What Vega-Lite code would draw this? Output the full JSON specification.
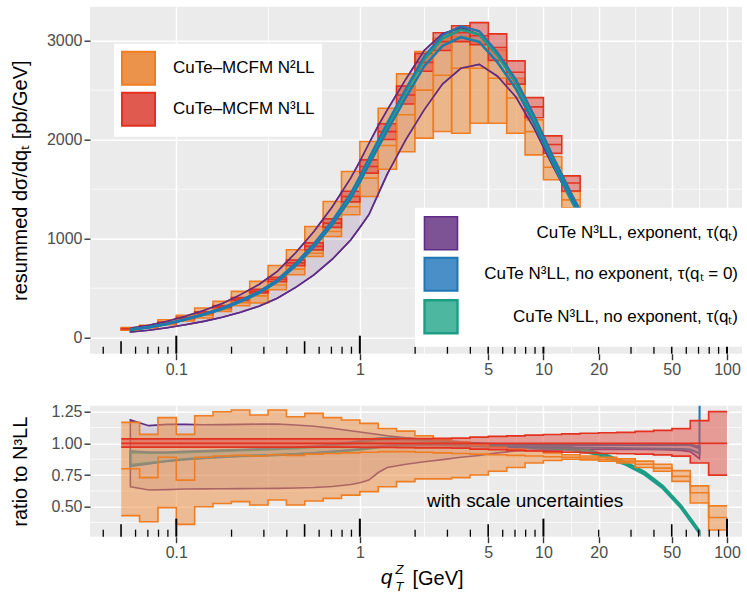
{
  "$schema": "https://vega.github.io/schema/vega-lite/v6.json",
  "padding": {"left": 10, "top": 6.7, "right": 0, "bottom": 0},
  "spacing": 26,
  "config": {
    "font": "Liberation Sans",
    "view": {"fill": "#EBEBEB", "stroke": null},
    "axis": {"domain": false, "labelFont": "Liberation Sans", "labelFontSize": 16, "labelColor": "#4D4D4D", "titleFont": "Liberation Sans", "titleFontSize": 20, "titleFontWeight": "normal", "titleColor": "black", "tickColor": "#333333", "tickSize": 6, "tickWidth": 1.4, "gridColor": "white", "labelPadding": 2, "labelFlush": false, "labelOverlap": false},
    "legend": {"labelFont": "Liberation Sans"}
  },
  "resolve": {"scale": {"x": "independent", "y": "independent", "fill": "independent", "stroke": "independent", "strokeWidth": "independent"}, "legend": {"fill": "independent", "stroke": "independent"}},
  "datasets": {
    "hist": [
      {"a":0.050119,"b":0.063096,"s":"N2","lo":72,"c":78,"hi":100},{"a":0.050119,"b":0.063096,"s":"N3","lo":80,"c":84,"hi":88},
      {"a":0.063096,"b":0.079433,"s":"N2","lo":95,"c":102,"hi":122},{"a":0.063096,"b":0.079433,"s":"N3","lo":106,"c":111,"hi":116},
      {"a":0.079433,"b":0.1,"s":"N2","lo":128,"c":140,"hi":178},{"a":0.079433,"b":0.1,"s":"N3","lo":142,"c":148,"hi":154},
      {"a":0.1,"b":0.125893,"s":"N2","lo":165,"c":175,"hi":222},{"a":0.1,"b":0.125893,"s":"N3","lo":186,"c":194,"hi":202},
      {"a":0.125893,"b":0.158489,"s":"N2","lo":196,"c":225,"hi":297},{"a":0.125893,"b":0.158489,"s":"N3","lo":238,"c":248,"hi":258},
      {"a":0.158489,"b":0.199526,"s":"N2","lo":263,"c":285,"hi":364},{"a":0.158489,"b":0.199526,"s":"N3","lo":298,"c":310,"hi":322},
      {"a":0.199526,"b":0.251189,"s":"N2","lo":320,"c":350,"hi":465},{"a":0.199526,"b":0.251189,"s":"N3","lo":372,"c":387,"hi":402},
      {"a":0.251189,"b":0.316228,"s":"N2","lo":347,"c":420,"hi":566},{"a":0.251189,"b":0.316228,"s":"N3","lo":450,"c":468,"hi":486},
      {"a":0.316228,"b":0.398107,"s":"N2","lo":482,"c":530,"hi":727},{"a":0.316228,"b":0.398107,"s":"N3","lo":563,"c":585,"hi":607},
      {"a":0.398107,"b":0.501187,"s":"N2","lo":633,"c":690,"hi":886},{"a":0.398107,"b":0.501187,"s":"N3","lo":725,"c":753,"hi":781},
      {"a":0.501187,"b":0.630957,"s":"N2","lo":818,"c":850,"hi":1121},{"a":0.501187,"b":0.630957,"s":"N3","lo":885,"c":920,"hi":955},
      {"a":0.630957,"b":0.794328,"s":"N2","lo":1020,"c":1070,"hi":1374},{"a":0.630957,"b":0.794328,"s":"N3","lo":1112,"c":1155,"hi":1198},
      {"a":0.794328,"b":1,"s":"N2","lo":1239,"c":1320,"hi":1677},{"a":0.794328,"b":1,"s":"N3","lo":1370,"c":1424,"hi":1478},
      {"a":1,"b":1.258925,"s":"N2","lo":1424,"c":1610,"hi":1980},{"a":1,"b":1.258925,"s":"N3","lo":1660,"c":1727,"hi":1794},
      {"a":1.258925,"b":1.584893,"s":"N2","lo":1700,"c":1940,"hi":2317},{"a":1.258925,"b":1.584893,"s":"N3","lo":2000,"c":2080,"hi":2160},
      {"a":1.584893,"b":1.995262,"s":"N2","lo":1876,"c":2250,"hi":2664},{"a":1.584893,"b":1.995262,"s":"N3","lo":2360,"c":2450,"hi":2540},
      {"a":1.995262,"b":2.511886,"s":"N2","lo":2014,"c":2500,"hi":2889},{"a":1.995262,"b":2.511886,"s":"N3","lo":2690,"c":2780,"hi":2870},
      {"a":2.511886,"b":3.162278,"s":"N2","lo":2081,"c":2650,"hi":3024},{"a":2.511886,"b":3.162278,"s":"N3","lo":2900,"c":2990,"hi":3080},
      {"a":3.162278,"b":3.981072,"s":"N2","lo":2064,"c":2720,"hi":3040},{"a":3.162278,"b":3.981072,"s":"N3","lo":2990,"c":3080,"hi":3150},
      {"a":3.981072,"b":5.011872,"s":"N2","lo":2165,"c":2720,"hi":2990},{"a":3.981072,"b":5.011872,"s":"N3","lo":2960,"c":3050,"hi":3182},
      {"a":5.011872,"b":6.309573,"s":"N2","lo":2165,"c":2620,"hi":2906},{"a":5.011872,"b":6.309573,"s":"N3","lo":2800,"c":2930,"hi":3068},
      {"a":6.309573,"b":7.943282,"s":"N2","lo":2064,"c":2420,"hi":2620},{"a":6.309573,"b":7.943282,"s":"N3","lo":2560,"c":2680,"hi":2795},
      {"a":7.943282,"b":10,"s":"N2","lo":1845,"c":2080,"hi":2199},{"a":7.943282,"b":10,"s":"N3","lo":2220,"c":2330,"hi":2424},
      {"a":10,"b":12.58925,"s":"N2","lo":1593,"c":1720,"hi":1828},{"a":10,"b":12.58925,"s":"N3","lo":1860,"c":1950,"hi":2037},
      {"a":12.58925,"b":15.84893,"s":"N2","lo":1310,"c":1390,"hi":1475},{"a":12.58925,"b":15.84893,"s":"N3","lo":1480,"c":1560,"hi":1633},
      {"a":15.84893,"b":19.95262,"s":"N2","lo":1010,"c":1060,"hi":1120},{"a":15.84893,"b":19.95262,"s":"N3","lo":1130,"c":1200,"hi":1265},
      {"a":19.95262,"b":25.11886,"s":"N2","lo":740,"c":775,"hi":815},{"a":19.95262,"b":25.11886,"s":"N3","lo":830,"c":880,"hi":930},
      {"a":25.11886,"b":31.62278,"s":"N2","lo":510,"c":530,"hi":560},{"a":25.11886,"b":31.62278,"s":"N3","lo":575,"c":610,"hi":650},
      {"a":31.62278,"b":39.81072,"s":"N2","lo":315,"c":330,"hi":350},{"a":31.62278,"b":39.81072,"s":"N3","lo":365,"c":390,"hi":420},
      {"a":39.81072,"b":50.11872,"s":"N2","lo":170,"c":178,"hi":185},{"a":39.81072,"b":50.11872,"s":"N3","lo":205,"c":220,"hi":240},
      {"a":50.11872,"b":63.09573,"s":"N2","lo":75,"c":79,"hi":83},{"a":50.11872,"b":63.09573,"s":"N3","lo":95,"c":105,"hi":115},
      {"a":63.09573,"b":79.43282,"s":"N2","lo":22,"c":25,"hi":28},{"a":63.09573,"b":79.43282,"s":"N3","lo":36,"c":40,"hi":45},
      {"a":79.43282,"b":100,"s":"N2","lo":3,"c":3.5,"hi":4},{"a":79.43282,"b":100,"s":"N3","lo":6,"c":8,"hi":10}
    ],
    "ratio": [
      {"x":0.050119,"olo":0.43,"oc":0.80,"ohi":1.166,"rlo":0.97,"rc":1,"rhi":1.035},
      {"x":0.063096,"olo":0.382,"oc":0.73,"ohi":1.071,"rlo":0.97,"rc":1,"rhi":1.035},
      {"x":0.079433,"olo":0.493,"oc":0.89,"ohi":1.203,"rlo":0.97,"rc":1,"rhi":1.035},
      {"x":0.1,"olo":0.361,"oc":0.71,"ohi":1.071,"rlo":0.97,"rc":1,"rhi":1.035},
      {"x":0.125893,"olo":0.50,"oc":0.89,"ohi":1.218,"rlo":0.97,"rc":1,"rhi":1.035},
      {"x":0.158489,"olo":0.526,"oc":0.90,"ohi":1.25,"rlo":0.97,"rc":1,"rhi":1.035},
      {"x":0.199526,"olo":0.54,"oc":0.905,"ohi":1.263,"rlo":0.97,"rc":1,"rhi":1.035},
      {"x":0.251189,"olo":0.514,"oc":0.90,"ohi":1.224,"rlo":0.97,"rc":1,"rhi":1.035},
      {"x":0.316228,"olo":0.553,"oc":0.91,"ohi":1.263,"rlo":0.97,"rc":1,"rhi":1.035},
      {"x":0.398107,"olo":0.514,"oc":0.905,"ohi":1.21,"rlo":0.97,"rc":1,"rhi":1.035},
      {"x":0.501187,"olo":0.545,"oc":0.915,"ohi":1.237,"rlo":0.97,"rc":1,"rhi":1.035},
      {"x":0.630957,"olo":0.566,"oc":0.92,"ohi":1.203,"rlo":0.97,"rc":1,"rhi":1.035},
      {"x":0.794328,"olo":0.592,"oc":0.925,"ohi":1.184,"rlo":0.97,"rc":1,"rhi":1.035},
      {"x":1,"olo":0.619,"oc":0.93,"ohi":1.158,"rlo":0.968,"rc":1,"rhi":1.036},
      {"x":1.258925,"olo":0.658,"oc":0.935,"ohi":1.118,"rlo":0.968,"rc":1,"rhi":1.036},
      {"x":1.584893,"olo":0.698,"oc":0.935,"ohi":1.097,"rlo":0.966,"rc":1,"rhi":1.037},
      {"x":1.995262,"olo":0.72,"oc":0.93,"ohi":1.06,"rlo":0.965,"rc":1,"rhi":1.038},
      {"x":2.511886,"olo":0.72,"oc":0.925,"ohi":1.03,"rlo":0.964,"rc":1,"rhi":1.04},
      {"x":3.162278,"olo":0.73,"oc":0.92,"ohi":1.01,"rlo":0.962,"rc":1,"rhi":1.042},
      {"x":3.981072,"olo":0.75,"oc":0.915,"ohi":0.99,"rlo":0.955,"rc":1,"rhi":1.05},
      {"x":5.011872,"olo":0.78,"oc":0.91,"ohi":0.97,"rlo":0.95,"rc":1,"rhi":1.055},
      {"x":6.309573,"olo":0.81,"oc":0.905,"ohi":0.955,"rlo":0.945,"rc":1,"rhi":1.06},
      {"x":7.943282,"olo":0.845,"oc":0.90,"ohi":0.94,"rlo":0.94,"rc":1,"rhi":1.065},
      {"x":10,"olo":0.865,"oc":0.895,"ohi":0.925,"rlo":0.935,"rc":1,"rhi":1.07},
      {"x":12.58925,"olo":0.875,"oc":0.89,"ohi":0.91,"rlo":0.93,"rc":1,"rhi":1.075},
      {"x":15.84893,"olo":0.87,"oc":0.885,"ohi":0.90,"rlo":0.925,"rc":1,"rhi":1.08},
      {"x":19.95262,"olo":0.86,"oc":0.875,"ohi":0.89,"rlo":0.92,"rc":1,"rhi":1.084},
      {"x":25.11886,"olo":0.845,"oc":0.86,"ohi":0.878,"rlo":0.918,"rc":1,"rhi":1.087},
      {"x":31.62278,"olo":0.81,"oc":0.835,"ohi":0.86,"rlo":0.915,"rc":1,"rhi":1.094},
      {"x":39.81072,"olo":0.78,"oc":0.805,"ohi":0.835,"rlo":0.91,"rc":1,"rhi":1.103},
      {"x":50.11872,"olo":0.70,"oc":0.74,"ohi":0.785,"rlo":0.90,"rc":1,"rhi":1.117},
      {"x":63.09573,"olo":0.53,"oc":0.61,"ohi":0.665,"rlo":0.845,"rc":1,"rhi":1.18},
      {"x":79.43282,"olo":0.316,"oc":0.415,"ohi":0.507,"rlo":0.75,"rc":1,"rhi":1.25},
      {"x":100,"olo":0.316,"oc":0.415,"ohi":0.507,"rlo":0.75,"rc":1,"rhi":1.25}
    ],
    "curves": [
      {"x":0.0562,"s":"P","lo":55,"hi":92,"qlo":0.658,"qhi":1.185},{"x":0.0562,"s":"T","lo":77,"hi":79,"qlo":0.83,"qhi":0.93},{"x":0.0562,"s":"B","lo":77,"hi":80,"qlo":0.82,"qhi":0.94},
      {"x":0.0708,"s":"P","lo":72,"hi":122,"qlo":0.632,"qhi":1.14},{"x":0.0708,"s":"T","lo":101,"hi":103,"qlo":0.845,"qhi":0.925},{"x":0.0708,"s":"B","lo":100,"hi":104,"qlo":0.84,"qhi":0.93},
      {"x":0.0891,"s":"P","lo":98,"hi":163,"qlo":0.635,"qhi":1.15},{"x":0.0891,"s":"T","lo":135,"hi":139,"qlo":0.86,"qhi":0.925},{"x":0.0891,"s":"B","lo":135,"hi":141,"qlo":0.86,"qhi":0.93},
      {"x":0.112,"s":"P","lo":128,"hi":213,"qlo":0.64,"qhi":1.15},{"x":0.112,"s":"T","lo":179,"hi":183,"qlo":0.875,"qhi":0.93},{"x":0.112,"s":"B","lo":179,"hi":185,"qlo":0.875,"qhi":0.935},
      {"x":0.141,"s":"P","lo":162,"hi":272,"qlo":0.641,"qhi":1.147},{"x":0.141,"s":"T","lo":228,"hi":234,"qlo":0.885,"qhi":0.935},{"x":0.141,"s":"B","lo":228,"hi":236,"qlo":0.885,"qhi":0.94},
      {"x":0.178,"s":"P","lo":203,"hi":342,"qlo":0.642,"qhi":1.148},{"x":0.178,"s":"T","lo":286,"hi":294,"qlo":0.893,"qhi":0.94},{"x":0.178,"s":"B","lo":287,"hi":297,"qlo":0.895,"qhi":0.945},
      {"x":0.224,"s":"P","lo":255,"hi":432,"qlo":0.643,"qhi":1.15},{"x":0.224,"s":"T","lo":361,"hi":371,"qlo":0.9,"qhi":0.945},{"x":0.224,"s":"B","lo":361,"hi":375,"qlo":0.9,"qhi":0.95},
      {"x":0.282,"s":"P","lo":315,"hi":535,"qlo":0.644,"qhi":1.152},{"x":0.282,"s":"T","lo":446,"hi":458,"qlo":0.903,"qhi":0.95},{"x":0.282,"s":"B","lo":447,"hi":463,"qlo":0.905,"qhi":0.955},
      {"x":0.355,"s":"P","lo":395,"hi":668,"qlo":0.645,"qhi":1.153},{"x":0.355,"s":"T","lo":561,"hi":575,"qlo":0.908,"qhi":0.955},{"x":0.355,"s":"B","lo":562,"hi":582,"qlo":0.91,"qhi":0.96},
      {"x":0.447,"s":"P","lo":505,"hi":856,"qlo":0.648,"qhi":1.145},{"x":0.447,"s":"T","lo":724,"hi":742,"qlo":0.915,"qhi":0.962},{"x":0.447,"s":"B","lo":725,"hi":751,"qlo":0.917,"qhi":0.968},
      {"x":0.562,"s":"P","lo":632,"hi":1070,"qlo":0.652,"qhi":1.135},{"x":0.562,"s":"T","lo":913,"hi":935,"qlo":0.922,"qhi":0.972},{"x":0.562,"s":"B","lo":913,"hi":947,"qlo":0.925,"qhi":0.978},
      {"x":0.708,"s":"P","lo":790,"hi":1320,"qlo":0.66,"qhi":1.12},{"x":0.708,"s":"T","lo":1138,"hi":1166,"qlo":0.932,"qhi":0.985},{"x":0.708,"s":"B","lo":1139,"hi":1181,"qlo":0.935,"qhi":0.992},
      {"x":0.891,"s":"P","lo":985,"hi":1610,"qlo":0.675,"qhi":1.1},{"x":0.891,"s":"T","lo":1403,"hi":1437,"qlo":0.944,"qhi":1.0},{"x":0.891,"s":"B","lo":1404,"hi":1456,"qlo":0.947,"qhi":1.01},
      {"x":1.0,"s":"P","lo":1110,"hi":1780,"qlo":0.69,"qhi":1.09},{"x":1.0,"s":"T","lo":1569,"hi":1607,"qlo":0.95,"qhi":1.01},{"x":1.0,"s":"B","lo":1571,"hi":1629,"qlo":0.955,"qhi":1.02},
      {"x":1.12,"s":"P","lo":1240,"hi":1960,"qlo":0.71,"qhi":1.08},{"x":1.12,"s":"T","lo":1746,"hi":1788,"qlo":0.96,"qhi":1.02},{"x":1.12,"s":"B","lo":1748,"hi":1812,"qlo":0.965,"qhi":1.03},
      {"x":1.26,"s":"P","lo":1450,"hi":2140,"qlo":0.77,"qhi":1.07},{"x":1.26,"s":"T","lo":1923,"hi":1969,"qlo":0.97,"qhi":1.03},{"x":1.26,"s":"B","lo":1925,"hi":1995,"qlo":0.975,"qhi":1.04},
      {"x":1.41,"s":"P","lo":1650,"hi":2300,"qlo":0.81,"qhi":1.06},{"x":1.41,"s":"T","lo":2090,"hi":2140,"qlo":0.98,"qhi":1.035},{"x":1.41,"s":"B","lo":2092,"hi":2168,"qlo":0.985,"qhi":1.045},
      {"x":1.78,"s":"P","lo":2000,"hi":2610,"qlo":0.835,"qhi":1.045},{"x":1.78,"s":"T","lo":2426,"hi":2484,"qlo":0.985,"qhi":1.03},{"x":1.78,"s":"B","lo":2426,"hi":2514,"qlo":0.99,"qhi":1.04},
      {"x":2.24,"s":"P","lo":2300,"hi":2900,"qlo":0.855,"qhi":1.03},{"x":2.24,"s":"T","lo":2742,"hi":2808,"qlo":0.987,"qhi":1.022},{"x":2.24,"s":"B","lo":2740,"hi":2840,"qlo":0.99,"qhi":1.03},
      {"x":2.82,"s":"P","lo":2560,"hi":3070,"qlo":0.872,"qhi":1.015},{"x":2.82,"s":"T","lo":2949,"hi":3021,"qlo":0.987,"qhi":1.015},{"x":2.82,"s":"B","lo":2946,"hi":3054,"qlo":0.99,"qhi":1.02},
      {"x":3.55,"s":"P","lo":2720,"hi":3130,"qlo":0.89,"qhi":1.005},{"x":3.55,"s":"T","lo":3038,"hi":3112,"qlo":0.983,"qhi":1.005},{"x":3.55,"s":"B","lo":3034,"hi":3146,"qlo":0.985,"qhi":1.01},
      {"x":4.47,"s":"P","lo":2760,"hi":3060,"qlo":0.905,"qhi":0.998},{"x":4.47,"s":"T","lo":2989,"hi":3061,"qlo":0.978,"qhi":0.997},{"x":4.47,"s":"B","lo":2985,"hi":3095,"qlo":0.98,"qhi":1.0},
      {"x":5.62,"s":"P","lo":2640,"hi":2850,"qlo":0.925,"qhi":0.993},{"x":5.62,"s":"T","lo":2781,"hi":2849,"qlo":0.973,"qhi":0.992},{"x":5.62,"s":"B","lo":2779,"hi":2881,"qlo":0.975,"qhi":0.995},
      {"x":7.08,"s":"P","lo":2430,"hi":2570,"qlo":0.94,"qhi":0.99},{"x":7.08,"s":"T","lo":2514,"hi":2576,"qlo":0.97,"qhi":0.988},{"x":7.08,"s":"B","lo":2514,"hi":2606,"qlo":0.972,"qhi":0.992},
      {"x":8.91,"s":"P","lo":2110,"hi":2210,"qlo":0.945,"qhi":0.988},{"x":8.91,"s":"T","lo":2159,"hi":2211,"qlo":0.966,"qhi":0.985},{"x":8.91,"s":"B","lo":2160,"hi":2240,"qlo":0.97,"qhi":0.99},
      {"x":11.2,"s":"P","lo":1740,"hi":1815,"qlo":0.948,"qhi":0.987},{"x":11.2,"s":"T","lo":1768,"hi":1812,"qlo":0.96,"qhi":0.98},{"x":11.2,"s":"B","lo":1777,"hi":1843,"qlo":0.968,"qhi":0.99},
      {"x":14.1,"s":"P","lo":1390,"hi":1445,"qlo":0.95,"qhi":0.986},{"x":14.1,"s":"T","lo":1393,"hi":1427,"qlo":0.95,"qhi":0.97},{"x":14.1,"s":"B","lo":1414,"hi":1466,"qlo":0.966,"qhi":0.99},
      {"x":17.8,"s":"P","lo":1055,"hi":1095,"qlo":0.952,"qhi":0.986},{"x":17.8,"s":"T","lo":1037,"hi":1063,"qlo":0.925,"qhi":0.945},{"x":17.8,"s":"B","lo":1070,"hi":1110,"qlo":0.965,"qhi":0.99},
      {"x":22.4,"s":"P","lo":755,"hi":785,"qlo":0.953,"qhi":0.985},{"x":22.4,"s":"T","lo":721,"hi":739,"qlo":0.885,"qhi":0.905},{"x":22.4,"s":"B","lo":766,"hi":794,"qlo":0.963,"qhi":0.99},
      {"x":28.2,"s":"P","lo":503,"hi":522,"qlo":0.953,"qhi":0.985},{"x":28.2,"s":"T","lo":454,"hi":466,"qlo":0.83,"qhi":0.85},{"x":28.2,"s":"B","lo":511,"hi":529,"qlo":0.962,"qhi":0.99},
      {"x":35.5,"s":"P","lo":310,"hi":322,"qlo":0.952,"qhi":0.985},{"x":35.5,"s":"T","lo":252,"hi":258,"qlo":0.755,"qhi":0.775},{"x":35.5,"s":"B","lo":314,"hi":326,"qlo":0.96,"qhi":0.99},
      {"x":44.7,"s":"P","lo":174,"hi":181,"qlo":0.95,"qhi":0.985},{"x":44.7,"s":"T","lo":120,"hi":124,"qlo":0.645,"qhi":0.665},{"x":44.7,"s":"B","lo":177,"hi":183,"qlo":0.958,"qhi":0.99},
      {"x":56.2,"s":"P","lo":87,"hi":91,"qlo":0.945,"qhi":0.985},{"x":56.2,"s":"T","lo":46,"hi":48,"qlo":0.49,"qhi":0.51},{"x":56.2,"s":"B","lo":88,"hi":92,"qlo":0.955,"qhi":0.99},
      {"x":63.1,"s":"P","lo":57,"hi":60,"qlo":0.935,"qhi":0.985},{"x":63.1,"s":"T","lo":24.5,"hi":25.5,"qlo":0.39,"qhi":0.41},{"x":63.1,"s":"B","lo":59,"hi":61,"qlo":0.952,"qhi":0.99},
      {"x":70.8,"s":"P","lo":34,"hi":38,"qlo":0.88,"qhi":0.96},{"x":70.8,"s":"T","lo":11.8,"hi":12.2,"qlo":0.29,"qhi":0.31},{"x":70.8,"s":"B","lo":37,"hi":39,"qlo":0.92,"qhi":0.975},
      {"x":71.2,"s":"P","lo":34,"hi":38,"qlo":0.96,"qhi":0.98},{"x":71.2,"s":"B","lo":37,"hi":39,"qlo":2.0,"qhi":2.5}
    ],
    "lt": [
      {"x":0.04,"t":"n"},{"x":0.05,"t":"m"},{"x":0.06,"t":"n"},{"x":0.07,"t":"n"},{"x":0.08,"t":"n"},{"x":0.09,"t":"n"},
      {"x":0.1,"t":"M"},{"x":0.2,"t":"n"},{"x":0.3,"t":"n"},{"x":0.4,"t":"n"},{"x":0.5,"t":"m"},{"x":0.6,"t":"n"},{"x":0.7,"t":"n"},{"x":0.8,"t":"n"},{"x":0.9,"t":"n"},
      {"x":1,"t":"M"},{"x":2,"t":"n"},{"x":3,"t":"n"},{"x":4,"t":"n"},{"x":5,"t":"m"},{"x":6,"t":"n"},{"x":7,"t":"n"},{"x":8,"t":"n"},{"x":9,"t":"n"},
      {"x":10,"t":"M"},{"x":20,"t":"n"},{"x":30,"t":"n"},{"x":40,"t":"n"},{"x":50,"t":"m"},{"x":60,"t":"n"},{"x":70,"t":"n"},{"x":80,"t":"n"},{"x":90,"t":"n"},
      {"x":100,"t":"M"}
    ],
    "minorgrid": [{"g":0.375},{"g":0.625},{"g":0.875},{"g":1.125}]
  },
  "vconcat": [
    {
      "width": 652,
      "height": 347,
      "resolve": {"scale": {"fill": "independent", "stroke": "independent", "strokeWidth": "independent"}},
      "layer": [
        {
          "data": {"name": "curves"},
          "mark": {"type": "area", "fillOpacity": 0.2, "clip": true},
          "encoding": {
            "x": {"field": "x", "type": "quantitative", "scale": {"type": "log", "domain": [0.03388, 120.7], "nice": false},
              "axis": {"title": null, "values": [0.1, 0.3162278, 1, 2.236068, 5, 7.071068, 10, 14.142136, 20, 31.622777, 50, 70.710678, 100], "format": "~g",
                "labelExpr": "indexof([0.1,1,5,10,20,50,100], datum.value) >= 0 ? datum.label : ''",
                "gridWidth": {"condition": {"test": "indexof([0.1,1,5,10,20,50,100], datum.value) >= 0", "value": 1.5}, "value": 0.75},
                "tickOpacity": {"condition": {"test": "indexof([0.1,1,5,10,20,50,100], datum.value) >= 0", "value": 1}, "value": 0}}},
            "y": {"field": "lo", "type": "quantitative", "scale": {"domain": [-165, 3343], "nice": false, "zero": false},
              "axis": {"title": "resummed dσ/dqₜ [pb/GeV]", "values": [0, 500, 1000, 1500, 2000, 2500, 3000], "format": "d",
                "labelExpr": "indexof([0,1000,2000,3000], datum.value) >= 0 ? datum.label : ''",
                "gridWidth": {"condition": {"test": "indexof([0,1000,2000,3000], datum.value) >= 0", "value": 1.5}, "value": 0.75},
                "tickOpacity": {"condition": {"test": "indexof([0,1000,2000,3000], datum.value) >= 0", "value": 1}, "value": 0},
                "minExtent": 44, "maxExtent": 44, "titlePadding": 16}},
            "y2": {"field": "hi"},
            "fill": {"field": "s", "type": "nominal", "scale": {"domain": ["P", "B", "T"], "range": ["#7D5396", "#4A8FC7", "#4DB89F"]},
              "legend": {"title": null, "orient": "none", "legendX": 325, "legendY": 201, "fillColor": "white", "padding": 8, "symbolType": "square", "symbolSize": 1089, "symbolStrokeWidth": 2, "labelFontSize": 17, "labelColor": "black", "labelAlign": "right", "labelOffset": 279, "labelLimit": 400, "rowPadding": 0,
                "labelExpr": "datum.label == 'P' ? 'CuTe N³LL, exponent, τ(qₜ)' : datum.label == 'B' ? 'CuTe N³LL, no exponent, τ(qₜ = 0)' : 'CuTe N³LL, no exponent, τ(qₜ)'"}},
            "stroke": {"field": "s", "type": "nominal", "scale": {"domain": ["P", "B", "T"], "range": ["#5E2C86", "#1F77B4", "#1B9E85"]},
              "legend": {"title": null, "orient": "none", "legendX": 325, "legendY": 201, "fillColor": "white", "padding": 8, "symbolType": "square", "symbolSize": 1089, "symbolStrokeWidth": 2, "labelFontSize": 17, "labelColor": "black", "labelAlign": "right", "labelOffset": 279, "labelLimit": 400, "rowPadding": 0,
                "labelExpr": "datum.label == 'P' ? 'CuTe N³LL, exponent, τ(qₜ)' : datum.label == 'B' ? 'CuTe N³LL, no exponent, τ(qₜ = 0)' : 'CuTe N³LL, no exponent, τ(qₜ)'"}},
            "strokeWidth": {"field": "s", "type": "ordinal", "scale": {"domain": ["P", "B", "T"], "range": [1.6, 2.4, 2.3]}, "legend": null}
          }
        },
        {
          "data": {"name": "hist"},
          "mark": {"type": "rect", "fillOpacity": 0.6, "strokeWidth": 1.6, "clip": true},
          "encoding": {
            "x": {"field": "a", "type": "quantitative"},
            "x2": {"field": "b"},
            "y": {"field": "lo", "type": "quantitative"},
            "y2": {"field": "hi"},
            "fill": {"field": "s", "type": "nominal", "scale": {"domain": ["N2", "N3"], "range": ["#EC934B", "#E05A50"]},
              "legend": {"title": null, "orient": "none", "legendX": 24, "legendY": 37, "fillColor": "white", "padding": 7, "symbolType": "square", "symbolSize": 1089, "symbolStrokeWidth": 2, "labelFontSize": 17, "labelColor": "black", "labelOffset": 17, "rowPadding": 0,
                "labelExpr": "datum.label == 'N2' ? 'CuTe–MCFM N²LL' : 'CuTe–MCFM N³LL'"}},
            "stroke": {"field": "s", "type": "nominal", "scale": {"domain": ["N2", "N3"], "range": ["#EF7D22", "#E3321F"]},
              "legend": {"title": null, "orient": "none", "legendX": 24, "legendY": 37, "fillColor": "white", "padding": 7, "symbolType": "square", "symbolSize": 1089, "symbolStrokeWidth": 2, "labelFontSize": 17, "labelColor": "black", "labelOffset": 17, "rowPadding": 0,
                "labelExpr": "datum.label == 'N2' ? 'CuTe–MCFM N²LL' : 'CuTe–MCFM N³LL'"}}
          }
        },
        {
          "data": {"name": "hist"},
          "mark": {"type": "rule", "strokeWidth": 1.6, "clip": true},
          "encoding": {
            "x": {"field": "a", "type": "quantitative"},
            "x2": {"field": "b"},
            "y": {"field": "c", "type": "quantitative"},
            "stroke": {"field": "s", "type": "nominal", "scale": {"domain": ["N2", "N3"], "range": ["#EF7D22", "#E3321F"]}, "legend": null}
          }
        },
        {
          "data": {"name": "curves"},
          "transform": [{"fold": ["lo", "hi"], "as": ["k", "v"]}],
          "mark": {"type": "line", "clip": true},
          "encoding": {
            "x": {"field": "x", "type": "quantitative"},
            "y": {"field": "v", "type": "quantitative"},
            "detail": {"field": "k"},
            "stroke": {"field": "s", "type": "nominal", "scale": {"domain": ["P", "B", "T"], "range": ["#5E2C86", "#1F77B4", "#1B9E85"]}, "legend": null},
            "strokeWidth": {"field": "s", "type": "ordinal", "scale": {"domain": ["P", "B", "T"], "range": [1.6, 2.4, 2.3]}, "legend": null}
          }
        },
        {
          "data": {"name": "lt"},
          "transform": [{"filter": "datum.t == 'n'"}],
          "mark": {"type": "rule", "color": "black", "strokeWidth": 1.3},
          "encoding": {"x": {"field": "x", "type": "quantitative"}, "y": {"datum": -165}, "y2": {"datum": -94}}
        },
        {
          "data": {"name": "lt"},
          "transform": [{"filter": "datum.t == 'm'"}],
          "mark": {"type": "rule", "color": "black", "strokeWidth": 1.6},
          "encoding": {"x": {"field": "x", "type": "quantitative"}, "y": {"datum": -165}, "y2": {"datum": -39}}
        },
        {
          "data": {"name": "lt"},
          "transform": [{"filter": "datum.t == 'M'"}],
          "mark": {"type": "rule", "color": "black", "strokeWidth": 2},
          "encoding": {"x": {"field": "x", "type": "quantitative"}, "y": {"datum": -165}, "y2": {"datum": 17}}
        }
      ]
    },
    {
      "width": 652,
      "height": 131,
      "layer": [
        {
          "data": {"name": "minorgrid"},
          "mark": {"type": "rule", "color": "white", "strokeWidth": 0.75},
          "encoding": {"y": {"field": "g", "type": "quantitative"}}
        },
        {
          "data": {"name": "curves"},
          "mark": {"type": "area", "fillOpacity": 0.2, "clip": true},
          "encoding": {
            "x": {"field": "x", "type": "quantitative", "scale": {"type": "log", "domain": [0.03388, 120.7], "nice": false},
              "axis": {"title": null, "values": [0.1, 0.3162278, 1, 2.236068, 5, 7.071068, 10, 14.142136, 20, 31.622777, 50, 70.710678, 100], "format": "~g",
                "labelExpr": "indexof([0.1,1,5,10,20,50,100], datum.value) >= 0 ? datum.label : ''",
                "gridWidth": {"condition": {"test": "indexof([0.1,1,5,10,20,50,100], datum.value) >= 0", "value": 1.5}, "value": 0.75},
                "tickOpacity": {"condition": {"test": "indexof([0.1,1,5,10,20,50,100], datum.value) >= 0", "value": 1}, "value": 0}}},
            "y": {"field": "qlo", "type": "quantitative", "scale": {"domain": [0.2636, 1.2975], "nice": false, "zero": false},
              "axis": {"title": "ratio to N³LL", "values": [0.5, 0.75, 1, 1.25], "format": ".2f", "gridWidth": 1.5,
                "minExtent": 44, "maxExtent": 44, "titlePadding": 16}},
            "y2": {"field": "qhi"},
            "fill": {"field": "s", "type": "nominal", "scale": {"domain": ["P", "B", "T"], "range": ["#7D5396", "#4A8FC7", "#4DB89F"]}, "legend": null},
            "stroke": {"field": "s", "type": "nominal", "scale": {"domain": ["P", "B", "T"], "range": ["#5E2C86", "#1F77B4", "#1B9E85"]}, "legend": null},
            "strokeWidth": {"field": "s", "type": "ordinal", "scale": {"domain": ["P", "B", "T"], "range": [1.6, 2.4, 2.3]}, "legend": null}
          }
        },
        {
          "data": {"name": "ratio"},
          "mark": {"type": "area", "interpolate": "step-after", "fill": "#EC934B", "fillOpacity": 0.55, "clip": true},
          "encoding": {"x": {"field": "x", "type": "quantitative"}, "y": {"field": "olo", "type": "quantitative"}, "y2": {"field": "ohi"}}
        },
        {
          "data": {"name": "ratio"},
          "transform": [{"fold": ["olo", "oc", "ohi"], "as": ["k", "v"]}],
          "mark": {"type": "line", "interpolate": "step-after", "stroke": "#EF7D22", "strokeWidth": 1.6, "clip": true},
          "encoding": {"x": {"field": "x", "type": "quantitative"}, "y": {"field": "v", "type": "quantitative"}, "detail": {"field": "k"}}
        },
        {
          "data": {"name": "ratio"},
          "mark": {"type": "area", "interpolate": "step-after", "fill": "#E05A50", "fillOpacity": 0.55, "clip": true},
          "encoding": {"x": {"field": "x", "type": "quantitative"}, "y": {"field": "rlo", "type": "quantitative"}, "y2": {"field": "rhi"}}
        },
        {
          "data": {"name": "ratio"},
          "transform": [{"fold": ["rlo", "rc", "rhi"], "as": ["k", "v"]}],
          "mark": {"type": "line", "interpolate": "step-after", "stroke": "#E3321F", "strokeWidth": 1.7, "clip": true},
          "encoding": {"x": {"field": "x", "type": "quantitative"}, "y": {"field": "v", "type": "quantitative"}, "detail": {"field": "k"}}
        },
        {
          "data": {"name": "lt"},
          "transform": [{"filter": "datum.t == 'n'"}],
          "mark": {"type": "rule", "color": "black", "strokeWidth": 1.3},
          "encoding": {"x": {"field": "x", "type": "quantitative"}, "y": {"datum": 0.2636}, "y2": {"datum": 0.319}}
        },
        {
          "data": {"name": "lt"},
          "transform": [{"filter": "datum.t == 'm'"}],
          "mark": {"type": "rule", "color": "black", "strokeWidth": 1.6},
          "encoding": {"x": {"field": "x", "type": "quantitative"}, "y": {"datum": 0.2636}, "y2": {"datum": 0.362}}
        },
        {
          "data": {"name": "lt"},
          "transform": [{"filter": "datum.t == 'M'"}],
          "mark": {"type": "rule", "color": "black", "strokeWidth": 2},
          "encoding": {"x": {"field": "x", "type": "quantitative"}, "y": {"datum": 0.2636}, "y2": {"datum": 0.406}}
        },
        {
          "data": {"values": [{"label": "with scale uncertainties"}]},
          "mark": {"type": "text", "fontSize": 19, "color": "black", "align": "center", "baseline": "alphabetic"},
          "encoding": {"x": {"datum": 7.96}, "y": {"datum": 0.5}, "text": {"field": "label"}}
        },
        {
          "data": {"values": [{"label": "q"}]},
          "mark": {"type": "text", "fontSize": 21, "fontStyle": "italic", "color": "black", "align": "center", "baseline": "alphabetic"},
          "encoding": {"x": {"datum": 1.397}, "y": {"datum": -0.107}, "text": {"field": "label"}}
        },
        {
          "data": {"values": [{"label": "Z"}]},
          "mark": {"type": "text", "fontSize": 13, "fontStyle": "italic", "color": "black", "align": "left", "baseline": "alphabetic"},
          "encoding": {"x": {"datum": 1.564}, "y": {"datum": -0.03}, "text": {"field": "label"}}
        },
        {
          "data": {"values": [{"label": "T"}]},
          "mark": {"type": "text", "fontSize": 13, "fontStyle": "italic", "color": "black", "align": "left", "baseline": "alphabetic"},
          "encoding": {"x": {"datum": 1.564}, "y": {"datum": -0.163}, "text": {"field": "label"}}
        },
        {
          "data": {"values": [{"label": "[GeV]"}]},
          "mark": {"type": "text", "fontSize": 20, "color": "black", "align": "left", "baseline": "alphabetic"},
          "encoding": {"x": {"datum": 1.936}, "y": {"datum": -0.115}, "text": {"field": "label"}}
        }
      ]
    }
  ]
}
